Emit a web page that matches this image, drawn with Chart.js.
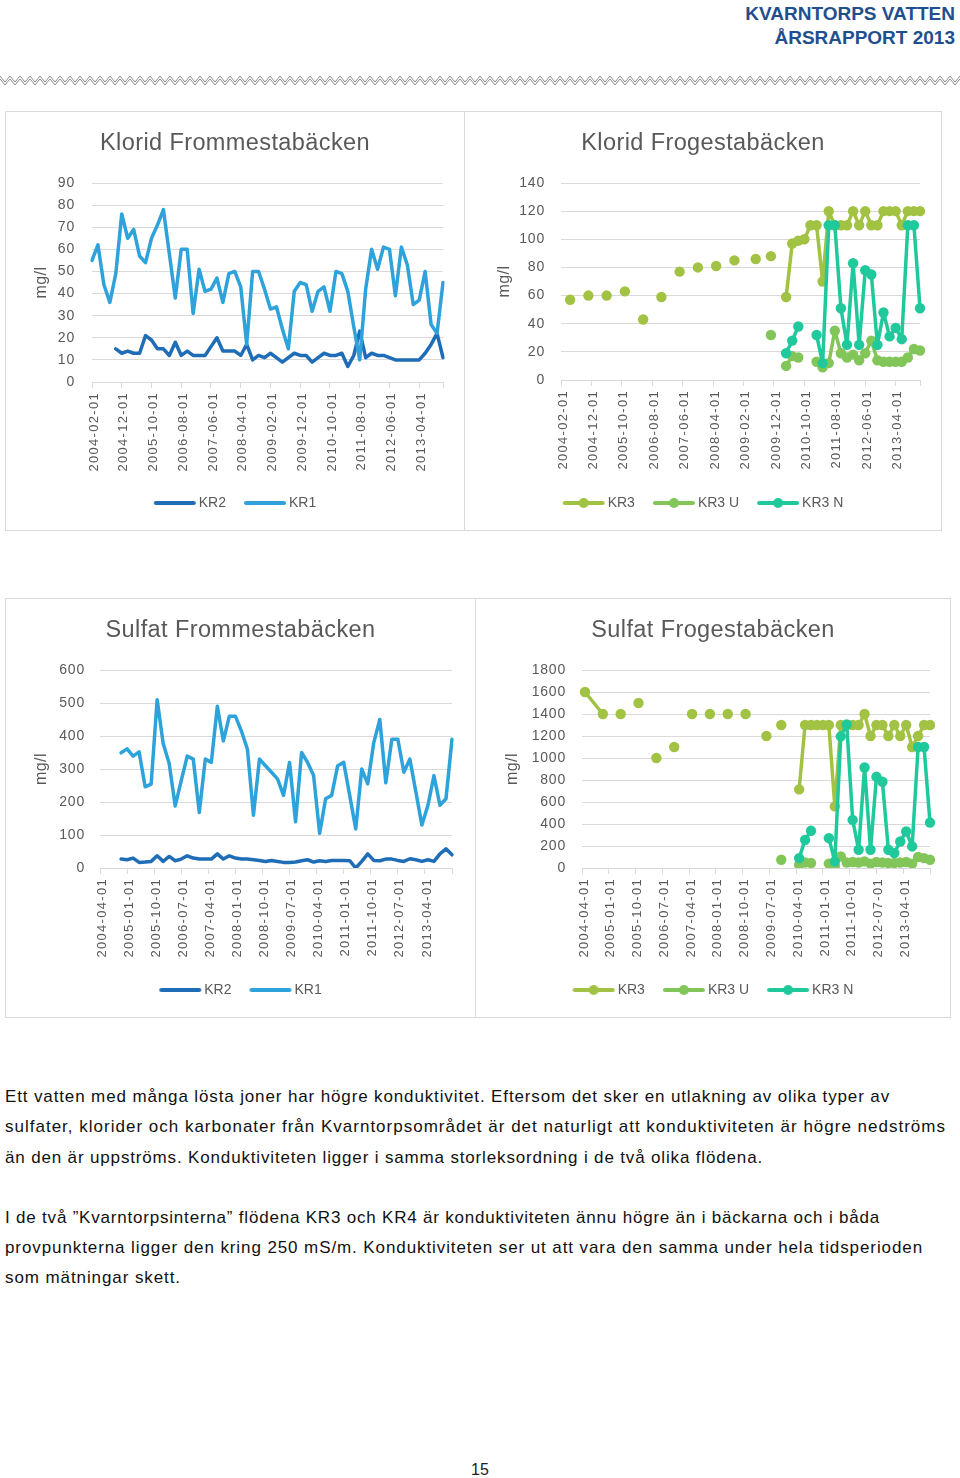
<!DOCTYPE html>
<html><head><meta charset="utf-8">
<script src="https://cdn.jsdelivr.net/npm/chart.js@4"></script>
<style>
body{margin:0;width:960px;height:1478px;position:relative;background:#fff;font-family:'Liberation Sans',Arial,sans-serif;overflow:hidden}
.hdr{position:absolute;right:5px;font-weight:bold;font-size:19px;color:#1f4f8f;line-height:24px;white-space:nowrap}
.box{position:absolute;border:1px solid #d9d9d9;box-sizing:border-box;background:#fff}
.box canvas{position:absolute;left:0;top:0}
.txt{position:absolute;left:5px;font-size:17px;color:#111;white-space:nowrap;line-height:30px}
.pg{position:absolute;left:0;width:960px;top:1460px;text-align:center;font-size:16px;line-height:20px;color:#222}
</style></head><body>
<div class="hdr" style="top:2px">KVARNTORPS VATTEN</div>
<div class="hdr" style="top:26px">ÅRSRAPPORT 2013</div>
<svg style="position:absolute;left:0;top:73px" width="960" height="16">
  <defs><pattern id="zz" width="10" height="16" patternUnits="userSpaceOnUse">
    <polyline points="0,3 5,9 10,3" fill="none" stroke="#8a8a8a" stroke-width="1"/>
    <polyline points="0,6 5,12 10,6" fill="none" stroke="#8a8a8a" stroke-width="1"/>
  </pattern></defs>
  <rect x="0" y="0" width="960" height="16" fill="url(#zz)"/>
</svg>

<div class="box" style="left:5px;top:111px;width:460px;height:420px"><canvas id="c1" width="458" height="418"></canvas></div>
<div class="box" style="left:464px;top:111px;width:478px;height:420px"><canvas id="c2" width="476" height="418"></canvas></div>
<div class="box" style="left:5px;top:598px;width:471px;height:420px"><canvas id="c3" width="469" height="418"></canvas></div>
<div class="box" style="left:475px;top:598px;width:476px;height:420px"><canvas id="c4" width="474" height="418"></canvas></div>

<div class="txt" style="top:1082px" data-w="885">Ett vatten med många lösta joner har högre konduktivitet. Eftersom det sker en utlakning av olika typer av</div>
<div class="txt" style="top:1112px" data-w="941">sulfater, klorider och karbonater från Kvarntorpsområdet är det naturligt att konduktiviteten är högre nedströms</div>
<div class="txt" style="top:1143px" data-w="758">än den är uppströms. Konduktiviteten ligger i samma storleksordning i de två olika flödena.</div>
<div class="txt" style="top:1203px" data-w="875">I de två ”Kvarntorpsinterna” flödena KR3 och KR4 är konduktiviteten ännu högre än i bäckarna och i båda</div>
<div class="txt" style="top:1233px" data-w="918">provpunkterna ligger den kring 250 mS/m. Konduktiviteten ser ut att vara den samma under hela tidsperioden</div>
<div class="txt" style="top:1263px" data-w="176">som mätningar skett.</div>
<div class="pg">15</div>

<script>
// ---------- axis tick labels ----------
const kloridTickLabels = ['2004-02-01','2004-12-01','2005-10-01','2006-08-01','2007-06-01','2008-04-01','2009-02-01','2009-12-01','2010-10-01','2011-08-01','2012-06-01','2013-04-01'];
const sulfatTickLabels = ['2004-04-01','2005-01-01','2005-10-01','2006-07-01','2007-04-01','2008-01-01','2008-10-01','2009-07-01','2010-04-01','2011-01-01','2011-10-01','2012-07-01','2013-04-01'];

// ---------- Klorid Frommestabäcken (mg/l) ----------
const kfDates = ['2004-02','2004-04','2004-06','2004-08','2004-10','2004-12',
 '2005-02','2005-04','2005-06','2005-08','2005-10','2005-12',
 '2006-02','2006-04','2006-06','2006-08','2006-10','2006-12',
 '2007-02','2007-04','2007-06','2007-08','2007-10','2007-12',
 '2008-02','2008-04','2008-06','2008-08','2008-10','2008-12',
 '2009-02','2009-04','2009-06','2009-08','2009-10','2009-12',
 '2010-02','2010-04','2010-06','2010-08','2010-10','2010-12',
 '2011-02','2011-04','2011-06','2011-08','2011-10','2011-12',
 '2012-02','2012-04','2012-06','2012-08','2012-10','2012-12',
 '2013-02','2013-04','2013-06','2013-08','2013-10','2013-12'];
const kfKR2 = [null,null,null,null,15,13,14,13,13,21,19,15,15,12,18,12,14,12,12,12,16,20,14,14,14,12,17,10,12,11,13,11,9,11,13,12,12,9,11,13,12,12,13,7,12,23,11,13,12,12,11,10,10,10,10,10,13,17,22,11];
const kfKR1 = [55,62,44,36,49,76,65,69,57,54,65,71,78,58,38,60,60,31,51,41,42,47,36,49,50,43,17,50,50,42,33,34,24,15,41,45,44,32,41,43,32,50,49,41,25,10,42,60,51,61,60,39,61,53,35,37,50,26,22,45];

// ---------- Klorid Frogestabäcken (mg/l), null = no measurement (line break) ----------
const kgKR3Dates = ['2004-05','2004-08','2004-11','2005-02','2005-05','2005-08','2005-11','2006-02','2006-05','2006-08','2006-11','2007-02','2007-05','2007-08','2007-11','2008-02','2008-05','2008-08','2008-11','2009-02','2009-06','2009-09','2009-11','2010-02','2010-04','2010-06','2010-08','2010-10','2010-12','2011-02','2011-04','2011-06','2011-08','2011-10','2011-12','2012-02','2012-04','2012-06','2012-08','2012-10','2012-12','2013-02','2013-04','2013-06','2013-08','2013-10','2013-12'];
const kgKR3 = [57,null,60,null,60,null,63,null,43,null,59,null,77,null,80,null,81,null,85,null,86,null,88,null,59,97,99,100,110,110,70,120,110,110,110,120,110,120,110,110,120,120,120,110,120,120,120];
const kgKR3UDates = ['2009-11','2010-02','2010-04','2010-06','2010-08','2010-12','2011-02','2011-04','2011-06','2011-08','2011-10','2011-12','2012-02','2012-04','2012-06','2012-08','2012-10','2012-12','2013-02','2013-04','2013-06','2013-08','2013-10','2013-12'];
const kgKR3U = [32,null,10,17,16,null,13,9,12,35,19,16,18,14,19,28,14,13,13,13,13,16,22,21];
const kgKR3NDates = ['2010-04','2010-06','2010-08','2010-12','2011-02','2011-04','2011-06','2011-08','2011-10','2011-12','2012-02','2012-04','2012-06','2012-08','2012-10','2012-12','2013-02','2013-04','2013-06','2013-08','2013-10','2013-12'];
const kgKR3N = [19,28,38,null,32,12,110,110,51,25,83,25,78,75,25,48,31,37,29,110,110,51];

// ---------- Sulfat Frommestabäcken (mg/l) ----------
const sfDates = ['2004-11',
 '2005-01','2005-03','2005-05','2005-07','2005-09','2005-11',
 '2006-01','2006-03','2006-05','2006-07','2006-09','2006-11',
 '2007-01','2007-03','2007-05','2007-07','2007-09','2007-11',
 '2008-01','2008-03','2008-05','2008-07','2008-09','2008-11',
 '2009-01','2009-03','2009-05','2009-07','2009-09','2009-11',
 '2010-01','2010-03','2010-05','2010-07','2010-09','2010-11',
 '2011-01','2011-03','2011-05','2011-07','2011-09','2011-11',
 '2012-01','2012-03','2012-05','2012-07','2012-09','2012-11',
 '2013-01','2013-03','2013-05','2013-07','2013-09','2013-11','2014-01'];
const sfKR2 = [27,25,30,17,18,20,37,20,35,22,27,37,30,27,27,27,43,27,37,30,27,27,25,23,20,23,20,17,17,18,22,25,18,22,20,23,23,23,22,0,20,43,23,22,27,27,23,20,28,25,20,25,20,43,58,40];
const sfKR1 = [349,361,339,352,246,254,510,377,317,188,265,339,330,168,330,320,490,385,460,460,415,360,160,330,310,290,270,220,320,140,350,320,280,105,210,220,310,320,220,118,300,255,380,450,258,390,390,290,330,230,130,190,280,190,210,390];

// ---------- Sulfat Frogestabäcken (mg/l), null = no measurement (line break) ----------
const sgKR3Dates = ['2004-05','2004-11','2005-02','2005-05','2005-08','2005-11','2006-02','2006-05','2006-08','2006-11','2007-02','2007-05','2007-08','2007-11','2008-02','2008-05','2008-08','2008-11','2009-02','2009-06','2009-09','2009-11','2010-02','2010-05','2010-07','2010-09','2010-11','2011-01','2011-03','2011-05','2011-07','2011-09','2011-11','2012-01','2012-03','2012-05','2012-07','2012-09','2012-11','2013-01','2013-03','2013-05','2013-07','2013-09','2013-11','2014-01'];
const sgKR3 = [1600,1400,null,1400,null,1500,null,1000,null,1100,null,1400,null,1400,null,1400,null,1400,null,1200,null,1300,null,715,1300,1300,1300,1300,1300,560,1300,1300,1300,1300,1400,1200,1300,1300,1200,1300,1200,1300,1100,1200,1300,1300];
const sgKR3UDates = ['2009-11','2010-02','2010-05','2010-07','2010-09','2010-12','2011-03','2011-05','2011-07','2011-09','2011-11','2012-01','2012-03','2012-05','2012-07','2012-09','2012-11','2013-01','2013-03','2013-05','2013-07','2013-09','2013-11','2014-01'];
const sgKR3U = [75,null,30,50,45,null,40,20,105,50,55,50,60,40,55,50,45,45,50,55,40,100,90,75];
const sgKR3NDates = ['2010-05','2010-07','2010-09','2010-12','2011-03','2011-05','2011-07','2011-09','2011-11','2012-01','2012-03','2012-05','2012-07','2012-09','2012-11','2013-01','2013-03','2013-05','2013-07','2013-09','2013-11','2014-01'];
const sgKR3N = [90,256,338,null,271,60,1197,1305,437,166,914,166,829,784,166,136,241,332,196,1100,1100,413];

// ---------- helpers ----------
function monthRange(start, count) {
  const [y, m] = start.split('-').map(Number); const out = [];
  for (let i = 0; i < count; i++) { const t = (m - 1) + i; out.push((y + Math.floor(t / 12)) + '-' + String(t % 12 + 1).padStart(2, '0')); }
  return out;
}
const kloridMonths = monthRange('2004-02', 119);
const sulfatMonths = monthRange('2004-04', 118);

const COL = { KR2: '#1f6db7', KR1: '#2ea2da', KR3: '#a2c243', KR3U: '#82c65a', KR3N: '#1fc99b' };
const FONT = "'Liberation Sans', Arial, sans-serif";
Chart.defaults.font.family = FONT;
Chart.defaults.color = '#595959';
Chart.defaults.animation = false;

function legendIcon(color, dot) {
  const c = document.createElement('canvas'); c.width = 48; c.height = 12;
  const g = c.getContext('2d'); g.strokeStyle = color; g.lineWidth = 4; g.lineCap = 'round';
  g.beginPath(); g.moveTo(7, 6); g.lineTo(45, 6); g.stroke();
  if (dot) { g.fillStyle = color; g.beginPath(); g.arc(26, 6, 5, 0, Math.PI * 2); g.fill(); }
  return c;
}

const spacingPlugin = {
  id: 'spacing',
  afterUpdate(chart) {
    const c = chart.ctx;
    const wrap = (obj, m, ls) => {
      if (!obj || !obj[m] || obj['__w_' + m]) return;
      const d = obj[m];
      obj[m] = function (...a) { const o = c.letterSpacing; c.letterSpacing = ls; try { return d.apply(this, a); } finally { c.letterSpacing = o; } };
      obj['__w_' + m] = true;
    };
    wrap(chart.scales.x, 'drawLabels', '1.3px');
    wrap(chart.scales.y, 'drawLabels', '0.8px');
    wrap(chart.scales.y, 'drawTitle', '0.5px');
    wrap(chart.titleBlock, 'draw', '0.4px');
    wrap(chart.legend, 'draw', '0px');
  }
};

function makeChart(id, p) {
  const tickSet = new Set(p.tickLabels);
  const months = p.months;
  new Chart(document.getElementById(id), {
    type: 'line',
    data: {
      datasets: p.series.map(s => ({
        label: s.label,
        data: s.dates.map((d, i) => ({ x: d, y: s.values[i] })),
        borderColor: s.color, backgroundColor: s.color,
        pointBackgroundColor: s.color, pointBorderWidth: 0,
        pointRadius: p.dots ? 5.2 : 0, pointHoverRadius: p.dots ? 5.2 : 0,
        borderWidth: 3.5, borderJoinStyle: 'round', borderCapStyle: 'round',
        tension: 0, fill: false, spanGaps: false, order: s.order, yAxisID: 'y'
      }))
    },
    options: {
      responsive: false, animation: false,
      layout: { padding: { left: 0, right: 0, top: 0, bottom: 10 } },
      plugins: {
        tooltip: { enabled: false },
        title: { display: true, text: p.title, color: '#595959', font: { size: 23.5, weight: 'normal', family: FONT }, padding: { top: 17, bottom: 25.8 } },
        legend: {
          position: 'bottom',
          labels: {
            usePointStyle: true, pointStyleWidth: 38, padding: 18, color: '#595959',
            font: { size: 14, family: FONT },
            generateLabels: chart => chart.data.datasets.map((ds, i) => ({
              text: ds.label, pointStyle: legendIcon(ds.borderColor, p.dots),
              fillStyle: ds.borderColor, strokeStyle: ds.borderColor, lineWidth: 0,
              hidden: false, datasetIndex: i, fontColor: '#595959'
            }))
          }
        }
      },
      scales: {
        x: {
          type: 'category', labels: months, offset: false,
          grid: { display: true, drawOnChartArea: false, drawTicks: true, tickLength: 6, color: '#d9d9d9', lineWidth: 1 },
          border: { display: true, color: '#d9d9d9', width: 1 },
          afterBuildTicks: sc => { sc.ticks = sc.ticks.filter(t => tickSet.has(months[t.value] + '-01') || t.value === months.length - 1); },
          ticks: {
            autoSkip: false, minRotation: 90, maxRotation: 90, padding: 4, labelOffset: 2, color: '#595959',
            font: { size: 13, family: FONT },
            callback: v => tickSet.has(months[v] + '-01') ? months[v] + '-01' : ''
          },
          afterFit: sc => { sc.height = p.xH; }
        },
        y: {
          min: 0, max: p.yMax,
          grid: { color: '#d9d9d9', lineWidth: 1, drawTicks: false },
          border: { display: false },
          ticks: { stepSize: p.yStep, padding: p.yPad, color: '#595959', font: { size: 14, family: FONT }, callback: v => String(v) },
          title: { display: true, text: 'mg/l', color: '#595959', font: { size: 16, family: FONT }, padding: { top: p.yTitleTop, bottom: 0 } },
          afterFit: sc => { sc.width = p.yW; }
        },
        yR: {
          type: 'linear', position: 'right', display: true,
          grid: { display: false, drawTicks: false }, border: { display: false },
          ticks: { display: false },
          afterFit: sc => { sc.width = p.padR; }
        }
      }
    },
    plugins: [spacingPlugin]
  });
}

makeChart('c1', {
  title: 'Klorid Frommestabäcken', months: kloridMonths, tickLabels: kloridTickLabels,
  yMax: 90, yStep: 10, yW: 86, yPad: 17, yTitleTop: 26.4, xH: 96, padR: 21, dots: false,
  series: [
    { label: 'KR2', dates: kfDates, values: kfKR2, color: COL.KR2, order: 2 },
    { label: 'KR1', dates: kfDates, values: kfKR1, color: COL.KR1, order: 1 }
  ]
});
makeChart('c2', {
  title: 'Klorid Frogestabäcken', months: kloridMonths, tickLabels: kloridTickLabels,
  yMax: 140, yStep: 20, yW: 96, yPad: 16, yTitleTop: 30.4, xH: 98, padR: 21, dots: true,
  series: [
    { label: 'KR3', dates: kgKR3Dates, values: kgKR3, color: COL.KR3, order: 3 },
    { label: 'KR3 U', dates: kgKR3UDates, values: kgKR3U, color: COL.KR3U, order: 2 },
    { label: 'KR3 N', dates: kgKR3NDates, values: kgKR3N, color: COL.KR3N, order: 1 }
  ]
});
makeChart('c3', {
  title: 'Sulfat Frommestabäcken', months: sulfatMonths, tickLabels: sulfatTickLabels,
  yMax: 600, yStep: 100, yW: 94, yPad: 15, yTitleTop: 26.4, xH: 97, padR: 23, dots: false,
  series: [
    { label: 'KR2', dates: sfDates, values: sfKR2, color: COL.KR2, order: 2 },
    { label: 'KR1', dates: sfDates, values: sfKR1, color: COL.KR1, order: 1 }
  ]
});
makeChart('c4', {
  title: 'Sulfat Frogestabäcken', months: sulfatMonths, tickLabels: sulfatTickLabels,
  yMax: 1800, yStep: 200, yW: 106, yPad: 16, yTitleTop: 27.4, xH: 97, padR: 20, dots: true,
  series: [
    { label: 'KR3', dates: sgKR3Dates, values: sgKR3, color: COL.KR3, order: 3 },
    { label: 'KR3 U', dates: sgKR3UDates, values: sgKR3U, color: COL.KR3U, order: 2 },
    { label: 'KR3 N', dates: sgKR3NDates, values: sgKR3N, color: COL.KR3N, order: 1 }
  ]
});

// fit body text lines to the reference line widths
document.querySelectorAll('.txt').forEach(el => {
  const target = +el.dataset.w;
  el.style.letterSpacing = '0px';
  const w = el.getBoundingClientRect().width;
  el.style.letterSpacing = ((target - w) / el.textContent.length) + 'px';
});
</script>
</body></html>
